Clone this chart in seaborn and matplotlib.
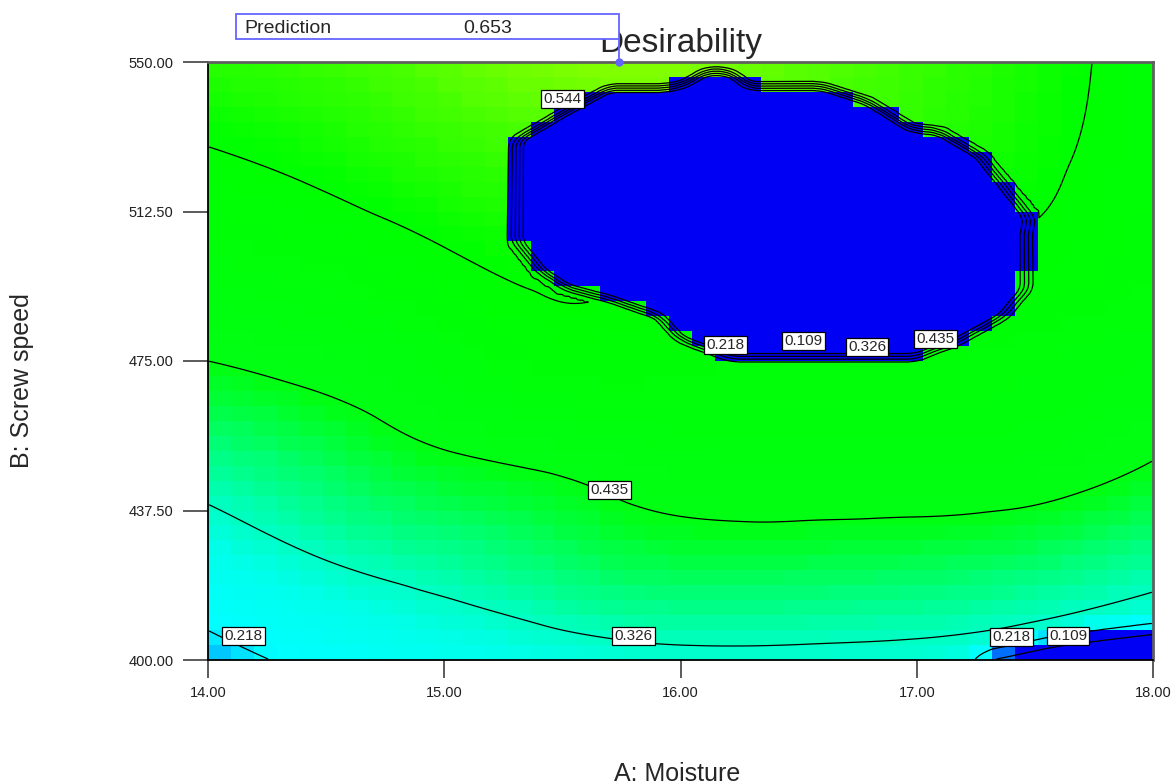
"""
Desirability contour plot (Moisture vs Screw speed), Design-Expert style
"""

import numpy as np
import pandas as pd
import matplotlib.pyplot as plt
import matplotlib.tri as mtri
import seaborn as sns
from matplotlib.path import Path
from matplotlib.colors import LinearSegmentedColormap
from matplotlib.patches import Rectangle
from matplotlib.lines import Line2D

# ---- data ------------------------------------------------------------------
moisture = [14.0, 14.5, 15.0, 15.5, 16.0, 16.5, 17.0, 17.5, 18.0]
screw_speed = [400, 425, 450, 475, 500, 525, 550]

# smooth desirability surface, one row per screw speed
d_400 = [0.190, 0.240, 0.275, 0.295, 0.310, 0.310, 0.305, 0.290, 0.265]
d_425 = [0.280, 0.326, 0.355, 0.385, 0.405, 0.405, 0.400, 0.385, 0.355]
d_450 = [0.360, 0.395, 0.428, 0.445, 0.465, 0.470, 0.470, 0.465, 0.435]
d_475 = [0.435, 0.455, 0.485, 0.515, 0.510, 0.505, 0.505, 0.495, 0.480]
d_500 = [0.490, 0.510, 0.537, 0.560, 0.550, 0.540, 0.535, 0.532, 0.505]
d_525 = [0.537, 0.558, 0.585, 0.605, 0.620, 0.600, 0.580, 0.555, 0.515]
d_550 = [0.585, 0.600, 0.625, 0.650, 0.650, 0.625, 0.600, 0.565, 0.520]

# region where desirability drops to zero (middle of the contour band)
blob_A = [16.11, 16.20, 16.29, 16.59, 16.79, 16.98, 17.09, 17.27, 17.37, 17.47,
          17.46, 17.36, 17.17, 17.00, 16.21, 16.00, 15.91, 15.70, 15.52, 15.41,
          15.31, 15.31, 15.51, 15.70, 15.99]
blob_B = [547.7, 547.7, 544.0, 544.0, 540.2, 533.2, 532.7, 526.4, 518.9, 511.4,
          492.8, 486.0, 480.0, 476.0, 476.0, 480.5, 486.3, 490.6, 493.3, 497.6,
          504.9, 530.4, 537.5, 543.5, 543.7]
corner_A = [17.14, 17.21, 17.60, 18.00, 18.30, 18.30]
corner_B = [390.0, 399.7, 404.6, 407.4, 409.0, 390.0]

contour_levels = [0.109, 0.218, 0.326, 0.435, 0.544]
x_tick_vals = [14.0, 15.0, 16.0, 17.0, 18.0]
y_tick_vals = [400.0, 437.5, 475.0, 512.5, 550.0]

pred_A, pred_B, pred_value = 15.74, 550.0, 0.653

# label anchor spots (A, B, text) - layout only
label_spots = [(15.50, 540.7, "0.544"), (16.19, 479.0, "0.218"), (16.52, 480.0, "0.109"),
               (16.79, 478.5, "0.326"), (17.08, 480.5, "0.435"), (15.70, 442.6, "0.435"),
               (15.80, 406.0, "0.326"), (14.15, 406.0, "0.218"), (17.40, 405.8, "0.218"),
               (17.64, 406.0, "0.109")]

A_MIN, A_MAX, B_MIN, B_MAX = 14.0, 18.0, 400.0, 550.0
NX, NY = 41, 40          # coloured cells
SX, SY = 10, 8           # fine samples per cell


def box_blur(m, kx, ky):
    """Separable box filter with edge padding"""
    p = np.pad(m, ((ky // 2, ky // 2), (kx // 2, kx // 2)), mode='edge')
    c = np.cumsum(np.pad(p, ((0, 0), (1, 0))), axis=1)
    p = (c[:, kx:] - c[:, :-kx]) / kx
    c = np.cumsum(np.pad(p, ((1, 0), (0, 0))), axis=0)
    return (c[ky:, :] - c[:-ky, :]) / ky


def xi(a):
    return (a - A_MIN) / (A_MAX - A_MIN) * NX


def yi(b):
    return (B_MAX - b) / (B_MAX - B_MIN) * NY


# ---- surface on fine grid ----------------------------------------------------
Z = np.array([d_400, d_425, d_450, d_475, d_500, d_525, d_550])
gA, gB = np.meshgrid(moisture, screw_speed)
tri = mtri.Triangulation(((gA - A_MIN) / 4).ravel(), ((gB - B_MIN) / 150).ravel())
interp = mtri.CubicTriInterpolator(tri, Z.ravel(), kind='min_E')

fa = A_MIN + (np.arange(NX * SX) + 0.5) * (A_MAX - A_MIN) / (NX * SX)
fb = B_MIN + (np.arange(NY * SY) + 0.5) * (B_MAX - B_MIN) / (NY * SY)
AA, BB = np.meshgrid(fa, fb)
S = np.asarray(interp((AA - A_MIN) / 4, (BB - B_MIN) / 150).filled(np.nan))

pts = np.column_stack([AA.ravel(), BB.ravel()])
in_blob = Path(np.column_stack([blob_A, blob_B])).contains_points(pts).reshape(AA.shape)
in_corner = Path(np.column_stack([corner_A, corner_B])).contains_points(pts).reshape(AA.shape)
r_blob = box_blur((~in_blob).astype(float), 9, 7)
r_corner = box_blur((~in_corner).astype(float), 15, 17)
D = S * r_blob * r_corner


def cells(f):
    return f.reshape(NY, SY, NX, SX).mean(axis=(1, 3))


cell = cells(S) * (cells(r_blob) > 0.5) * np.where(cells(r_corner) > 0.5, cells(r_corner), 0)
cell_df = pd.DataFrame(cell[::-1])

cmap = LinearSegmentedColormap.from_list("desir", [
    (0.00, (0, 0, 245 / 255)), (0.17, (0, 120 / 255, 1)), (0.20, (0, 200 / 255, 1)),
    (0.225, (0, 1, 1)), (0.29, (0, 1, 235 / 255)), (0.33, (0, 1, 190 / 255)),
    (0.38, (0, 1, 110 / 255)), (0.43, (0, 1, 20 / 255)),
    (0.55, (0, 1, 0)), (0.60, (55 / 255, 1, 0)), (0.66, (140 / 255, 1, 0)),
    (0.80, (1, 1, 0)), (1.00, (1, 0, 0))])

# ---- figure ------------------------------------------------------------------
sns.set_style("white")
plt.rcParams['font.family'] = ['Liberation Sans', 'DejaVu Sans']

fig = plt.figure(figsize=(11.72, 7.84), dpi=100)
ax = fig.add_axes([208 / 1172, 1 - 660 / 784, 945 / 1172, 598 / 784])

sns.heatmap(cell_df, ax=ax, cmap=cmap, vmin=0, vmax=1, cbar=False,
            xticklabels=False, yticklabels=False)

ax.contour(xi(AA), yi(BB), D, levels=contour_levels, colors='black', linewidths=0.9)
ax.set_xlim(0, NX)
ax.set_ylim(NY, 0)

for a, b, txt in label_spots:
    ax.text(xi(a), yi(b), txt, ha='center', va='center', fontsize=11, zorder=4,
            bbox=dict(boxstyle='square,pad=0.15', fc='white', ec='black', lw=0.9))

ax.set_xticks([xi(v) for v in x_tick_vals])
ax.set_xticklabels([f"{v:.2f}" for v in x_tick_vals], rotation=0)
ax.set_yticks([yi(v) for v in y_tick_vals])
ax.set_yticklabels([f"{v:.2f}" for v in y_tick_vals], rotation=0)
ax.tick_params(axis='x', bottom=True, length=13, width=1.2, color='#404040', pad=6,
               labelsize=10.5, labelcolor='#202020')
ax.tick_params(axis='y', left=True, length=18, width=1.2, color='#404040', pad=7,
               labelsize=10.5, labelcolor='#202020')

for s in ['left', 'bottom']:
    ax.spines[s].set_visible(True)
    ax.spines[s].set_color('black')
    ax.spines[s].set_linewidth(1.3)
for s in ['top', 'right']:
    ax.spines[s].set_visible(True)
    ax.spines[s].set_color('#606060')
    ax.spines[s].set_linewidth(2)

ax.set_title("Desirability", fontsize=24, pad=7)
ax.set_xlabel("A: Moisture", fontsize=18)
ax.xaxis.set_label_coords(0.496, -0.170)
ax.set_ylabel("B: Screw speed", fontsize=18)
ax.yaxis.set_label_coords(-0.184, 0.468)

# prediction flag
ax.plot(xi(pred_A), yi(pred_B), 'o', color='#6464ff', ms=5, clip_on=False, zorder=6)
fx, fy = fig.transFigure.inverted().transform(ax.transData.transform((xi(pred_A), yi(pred_B))))
box_l, box_b, box_t = 236 / 1172, 1 - 39 / 784, 1 - 14 / 784
fig.add_artist(Rectangle((box_l, box_b), fx - box_l, box_t - box_b, transform=fig.transFigure,
                         fc='white', ec='#6464ff', lw=1.3, zorder=5))
fig.add_artist(Line2D([fx, fx], [box_b, fy], transform=fig.transFigure,
                      color='#6464ff', lw=1.3, zorder=5))
fig.text(244 / 1172, 1 - 33 / 784, "Prediction", fontsize=14, va='baseline', zorder=6)
fig.text(463 / 1172, 1 - 33 / 784, f"{pred_value:.3f}", fontsize=14, va='baseline', zorder=6)

fig.savefig("out.png", dpi=100)
plt.close(fig)
